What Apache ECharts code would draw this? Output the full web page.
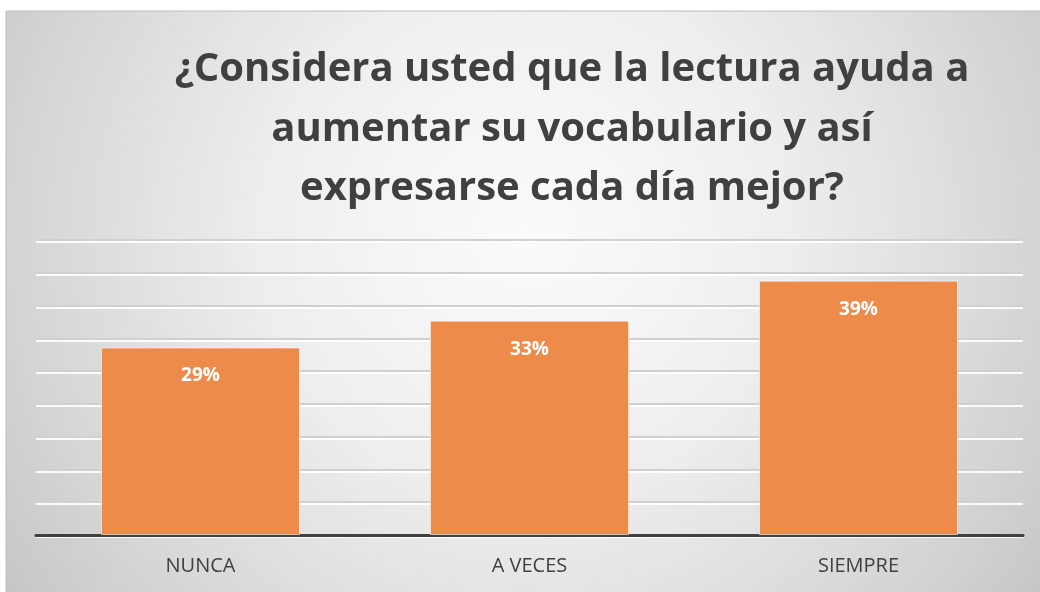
<!DOCTYPE html>
<html>
<head>
<meta charset="utf-8">
<script src="https://cdn.jsdelivr.net/npm/echarts@6/dist/echarts.min.js"></script>
<style>
  html, body { margin: 0; padding: 0; background: #fff; }
  #main { width: 1040px; height: 592px; }
</style>
</head>
<body>
<div id="main"></div>
<script>
var categories = ['NUNCA', 'A VECES', 'SIEMPRE'];
var values = [0.286, 0.327, 0.388];
var titleLines = [
    '¿Considera usted que la lectura ayuda a',
    'aumentar su vocabulario y así',
    'expresarse cada día mejor?'
];

var myChart = echarts.init(document.getElementById('main'));
var option = {
    backgroundColor: '#ffffff',
    graphic: [
        {
            type: 'rect',
            z: -10,
            shape: { x: 6, y: 11, width: 1040, height: 590 },
            style: {
                fill: new echarts.graphic.RadialGradient(0.5, 0.38, 1.1, [
                    { offset: 0, color: '#fbfbfb' },
                    { offset: 0.4, color: '#eeeeee' },
                    { offset: 0.75, color: '#d7d7d7' },
                    { offset: 1, color: '#c4c4c4' }
                ]),
                stroke: '#bdbdbd',
                lineWidth: 1
            }
        },
        {
            type: 'text',
            x: 572,
            y: 40,
            style: {
                text: titleLines.join('\n'),
                font: 'bold 40px "Open Sans"',
                fill: '#404040',
                align: 'center',
                lineHeight: 59.5
            }
        }
    ],
    grid: {
        left: 36,
        right: 17,
        top: 240,
        bottom: 57
    },
    xAxis: {
        type: 'category',
        data: categories,
        axisTick: { show: false },
        axisLine: {
            lineStyle: { color: '#404040', width: 3 }
        },
        axisLabel: {
            color: '#404040',
            fontSize: 20,
            fontFamily: 'Open Sans',
            margin: 21
        }
    },
    yAxis: {
        type: 'value',
        min: 0,
        max: 0.45,
        interval: 0.05,
        axisLabel: { show: false },
        axisLine: { show: false },
        axisTick: { show: false },
        splitLine: {
            lineStyle: {
                color: '#d0d0d0',
                width: 2,
                shadowColor: 'rgba(255,255,255,0.9)',
                shadowOffsetY: 2
            }
        }
    },
    series: [{
        type: 'bar',
        data: values,
        barWidth: '60.5%',
        itemStyle: {
            color: '#ED8B4B',
            borderColor: 'rgba(255,255,255,0.55)',
            borderWidth: 1
        },
        label: {
            show: true,
            position: 'insideTop',
            distance: 19,
            color: '#ffffff',
            fontSize: 19,
            fontWeight: 'bold',
            fontFamily: 'Open Sans',
            formatter: function (p) {
                return Math.round(p.value * 100) + '%';
            }
        }
    }]
};
myChart.setOption(option);
</script>
</body>
</html>
